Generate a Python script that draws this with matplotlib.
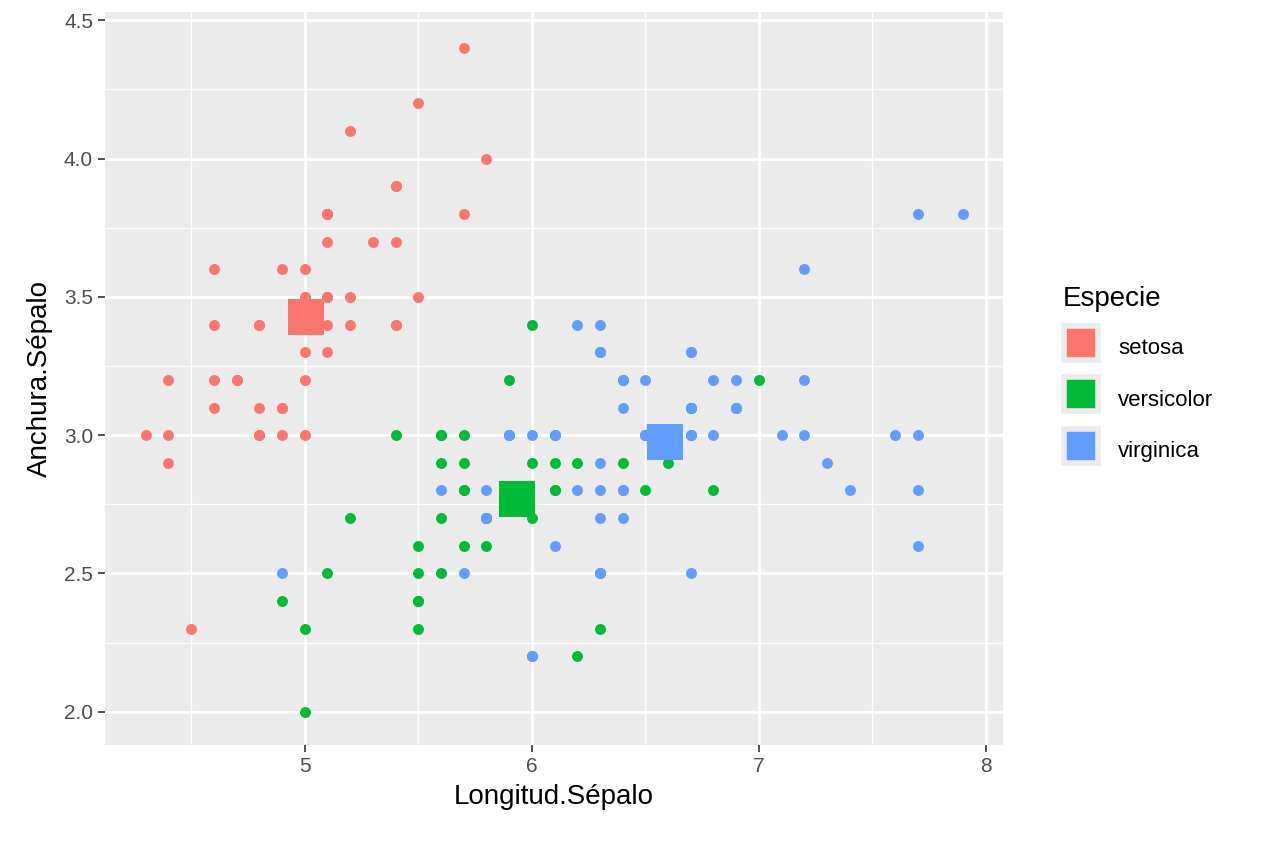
import matplotlib.pyplot as plt
from matplotlib.lines import Line2D
from matplotlib.ticker import MultipleLocator

plt.rcParams['font.family'] = ['Liberation Sans', 'DejaVu Sans']

species = ["setosa", "versicolor", "virginica"]
colors = ["#F8766D", "#00BA38", "#619CFF"]

setosa_len = [5.1,4.9,4.7,4.6,5.0,5.4,4.6,5.0,4.4,4.9,5.4,4.8,4.8,4.3,5.8,5.7,5.4,5.1,5.7,5.1,
              5.4,5.1,4.6,5.1,4.8,5.0,5.0,5.2,5.2,4.7,4.8,5.4,5.2,5.5,4.9,5.0,5.5,4.9,4.4,5.1,
              5.0,4.5,4.4,5.0,5.1,4.8,5.1,4.6,5.3,5.0]
setosa_wid = [3.5,3.0,3.2,3.1,3.6,3.9,3.4,3.4,2.9,3.1,3.7,3.4,3.0,3.0,4.0,4.4,3.9,3.5,3.8,3.8,
              3.4,3.7,3.6,3.3,3.4,3.0,3.4,3.5,3.4,3.2,3.1,3.4,4.1,4.2,3.1,3.2,3.5,3.6,3.0,3.4,
              3.5,2.3,3.2,3.5,3.8,3.0,3.8,3.2,3.7,3.3]
versi_len = [7.0,6.4,6.9,5.5,6.5,5.7,6.3,4.9,6.6,5.2,5.0,5.9,6.0,6.1,5.6,6.7,5.6,5.8,6.2,5.6,
             5.9,6.1,6.3,6.1,6.4,6.6,6.8,6.7,6.0,5.7,5.5,5.5,5.8,6.0,5.4,6.0,6.7,6.3,5.6,5.5,
             5.5,6.1,5.8,5.0,5.6,5.7,5.7,6.2,5.1,5.7]
versi_wid = [3.2,3.2,3.1,2.3,2.8,2.8,3.3,2.4,2.9,2.7,2.0,3.0,2.2,2.9,2.9,3.1,3.0,2.7,2.2,2.5,
             3.2,2.8,2.5,2.8,2.9,3.0,2.8,3.0,2.9,2.6,2.4,2.4,2.7,2.7,3.0,3.4,3.1,2.3,3.0,2.5,
             2.6,3.0,2.6,2.3,2.7,3.0,2.9,2.9,2.5,2.8]
virg_len = [6.3,5.8,7.1,6.3,6.5,7.6,4.9,7.3,6.7,7.2,6.5,6.4,6.8,5.7,5.8,6.4,6.5,7.7,7.7,6.0,
            6.9,5.6,7.7,6.3,6.7,7.2,6.2,6.1,6.4,7.2,7.4,7.9,6.4,6.3,6.1,7.7,6.3,6.4,6.0,6.9,
            6.7,6.9,5.8,6.8,6.7,6.7,6.3,6.5,6.2,5.9]
virg_wid = [3.3,2.7,3.0,2.9,3.0,3.0,2.5,2.9,2.5,3.6,3.2,2.7,3.0,2.5,2.8,3.2,3.0,3.8,2.6,2.2,
            3.2,2.8,2.8,2.7,3.3,3.2,2.8,3.0,2.8,3.0,2.8,3.8,2.8,2.8,2.6,3.0,3.4,3.1,3.0,3.1,
            3.1,3.1,2.7,3.2,3.3,3.0,2.5,3.0,3.4,3.0]

lengths = [setosa_len, versi_len, virg_len]
widths = [setosa_wid, versi_wid, virg_wid]

fig = plt.figure(figsize=(12.64, 8.43), dpi=100)
ax = fig.add_axes([0.083, 0.1163, 0.7105, 0.8695])
ax.set_facecolor("#EBEBEB")
for s in ax.spines.values():
    s.set_visible(False)
ax.set_xlim(4.12, 8.075)
ax.set_ylim(1.88, 4.53)
ax.xaxis.set_major_locator(MultipleLocator(1))
ax.xaxis.set_minor_locator(MultipleLocator(0.5))
ax.yaxis.set_major_locator(MultipleLocator(0.5))
ax.yaxis.set_minor_locator(MultipleLocator(0.25))
ax.grid(which="major", color="white", linewidth=2)
ax.grid(which="minor", color="white", linewidth=1)
ax.set_axisbelow(True)
ax.tick_params(which="major", length=5, width=1.2, color="#333333", labelsize=15, labelcolor="#4D4D4D")
ax.tick_params(which="minor", length=0)
ax.yaxis.set_major_formatter(lambda v, p: f"{v:.1f}")

handles = []
for name, c, xs, ys in zip(species, colors, lengths, widths):
    ax.scatter(xs, ys, s=62, color=c, linewidths=0, zorder=3)
    mx, my = sum(xs) / len(xs), sum(ys) / len(ys)
    ax.scatter([mx], [my], s=650, marker="s", color=c, linewidths=0, zorder=4)
    handles.append(Line2D([], [], marker="s", linestyle="", markersize=25, color=c,
                          markeredgecolor="#EBEBEB", markeredgewidth=4))

ax.set_xlabel("Longitud.Sépalo", fontsize=20, labelpad=6)
ax.set_ylabel("Anchura.Sépalo", fontsize=20, labelpad=8)

leg = fig.legend(handles, species, loc="upper left", bbox_to_anchor=(0.825, 0.685),
                 title="Especie", frameon=False, fontsize=16, title_fontsize=20,
                 handlelength=1.6, handleheight=1.8, labelspacing=0.9, handletextpad=0.9)
leg._legend_box.align = "left"

fig.savefig("out.png", dpi=100)
